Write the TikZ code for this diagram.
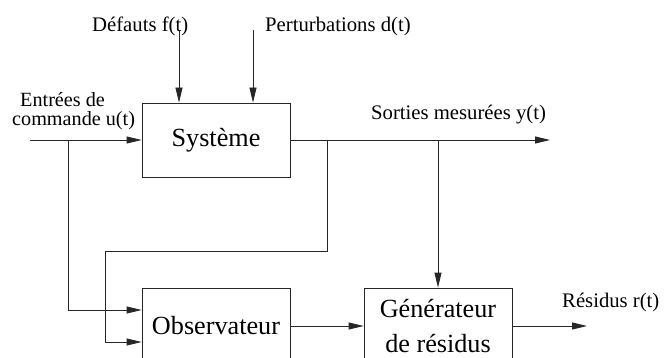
\documentclass[tikz,border=0pt]{standalone}
\usepackage{fontspec}
\setmainfont{Liberation Serif}
\usetikzlibrary{arrows.meta}
\begin{document}
\begin{tikzpicture}[x=1pt,y=-1pt,
  wire/.style={line width=0.8pt,draw=black!85},
  arr/.style={wire,-{Triangle[length=15pt,width=7pt]}},
  block/.style={draw=black!85,line width=0.8pt,minimum width=148pt,inner sep=0pt,
     font=\fontsize{26.2}{35}\selectfont,align=center},
  lbl/.style={inner sep=0pt,font=\fontsize{20.7}{17}\selectfont}]
\clip (0,0) rectangle (664,358);
\useasboundingbox (0,0) rectangle (664,358);
% blocks
\node[block,minimum height=74pt] (sys) at (216,140) {Système};
\node[block,minimum height=76pt] (obs) at (216,326) {Observateur};
\node[block,minimum height=76pt] (gen) at (438,326) {Générateur\\de résidus};
% labels
\node[lbl,anchor=base west] (ldef) at (92,32) {Défauts f(t)};
\node[lbl,anchor=base west] (lper) at (265,32) {Perturbations d(t)};
\node[lbl,anchor=base west,font=\fontsize{20.2}{17}\selectfont] (lent1) at (20,107) {Entrées de};
\node[lbl,anchor=base west,font=\fontsize{20.2}{17}\selectfont] (lent2) at (12,126) {commande u(t)};
\node[lbl,anchor=base west] (lsor) at (371,120) {Sorties mesurées y(t)};
\node[lbl,anchor=base west] (lres) at (562,307) {Résidus r(t)};
% coordinates
\coordinate (fin) at (179,30);
\coordinate (pin) at (253,30);
\coordinate (uin) at (30,140);
\coordinate (ub) at (68,140);
\coordinate (yout) at (550,140);
\coordinate (yb1) at (327,140);
\coordinate (yb2) at (438,140);
\coordinate (rout) at (587,326);
% connectors
\draw[arr] (fin) -- (fin |- sys.north);
\draw[arr] (pin) -- (pin |- sys.north);
\draw[arr] (uin) -- (sys.west);
\draw[arr] (ub) |- ([yshift=16pt]obs.west);
\draw[arr] (sys.east) -- (yout);
\draw[arr] (yb1) -- (327,251) -- (105,251) |- ([yshift=-16pt]obs.west);
\draw[arr] (yb2) -- (gen.north);
\draw[arr] (obs.east) -- (gen.west);
\draw[arr] (gen.east) -- (rout);
\end{tikzpicture}
\end{document}
